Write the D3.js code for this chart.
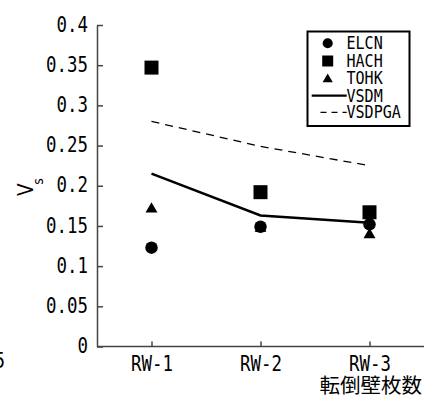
<!DOCTYPE html>
<html><head><meta charset="utf-8">
<script src="https://cdn.jsdelivr.net/npm/d3@7"></script>
<style>
body{margin:0;background:#fff;}
svg{display:block;}
text{font-family:"DejaVu Sans Mono",monospace;fill:#000;}
</style></head>
<body><div id="chart"></div>
<script>
const categories = ["RW-1","RW-2","RW-3"];
const elcn   = [0.123, 0.149, 0.152];
const hach   = [0.347, 0.192, 0.167];
const tohk   = [0.171, 0.147, 0.139];
const vsdm   = [0.215, 0.163, 0.154];
const vsdpga = [0.280, 0.249, 0.225];
const yTicks = [0, 0.05, 0.1, 0.15, 0.2, 0.25, 0.3, 0.35, 0.4];
const yTickLabels = ["0","0.05","0.1","0.15","0.2","0.25","0.3","0.35","0.4"];
const legendLabels = ["ELCN","HACH","TOHK","VSDM","VSDPGA"];
const xTitle = "転倒壁枚数";

const W = 430, H = 396, SX = 0.85;
const svg = d3.select("#chart").append("svg").attr("width", W).attr("height", H);

const x = d3.scalePoint().domain(categories).range([97, 424]).padding(0.5);
const y = d3.scaleLinear().domain([0, 0.4]).range([346.5, 25]);

// Y axis
const yAxis = svg.append("g").attr("transform", "translate(97,0)")
  .call(d3.axisLeft(y).tickValues(yTicks).tickSizeInner(-6).tickSizeOuter(0).tickPadding(9)
    .tickFormat((d,i) => yTickLabels[i]));
yAxis.selectAll("path.domain").attr("stroke", "#444").attr("stroke-width", 1.5);
yAxis.selectAll(".tick line").attr("stroke", "#444").attr("stroke-width", 1.5);
yAxis.selectAll(".tick text")
  .attr("font-family", "DejaVu Sans Mono").attr("font-size", 20.5)
  .attr("x", -9 / SX).attr("dy", "0.3em")
  .attr("transform", `scale(${SX},1)`);

// X axis
const xAxis = svg.append("g").attr("transform", "translate(0,346.5)")
  .call(d3.axisBottom(x).tickSizeInner(-5).tickSizeOuter(0).tickPadding(10));
xAxis.select("path.domain").attr("d", "M97,0H424").attr("stroke", "#444").attr("stroke-width", 1.5);
xAxis.selectAll(".tick line").attr("stroke", "#444").attr("stroke-width", 1.5);
xAxis.selectAll(".tick text")
  .attr("font-family", "DejaVu Sans Mono").attr("font-size", 20.5)
  .attr("y", 24.5).attr("dy", null)
  .attr("transform", `scale(${SX},1)`);

// X title
svg.append("text").attr("x", 422).attr("y", 393).attr("text-anchor", "end")
  .style("font-family", '"Noto Sans CJK JP"').attr("font-size", 20.5).text(xTitle);

// Y title V_s
const yt = svg.append("g").attr("transform", "translate(33,196) rotate(-90) scale(0.9,1)");
yt.append("text").attr("x", 0).attr("y", 0).attr("font-size", 20.5)
  .style("font-family", '"DejaVu Sans"').text("V");
yt.append("text").attr("x", 12.5).attr("y", 10).attr("font-size", 14)
  .style("font-family", '"DejaVu Sans"').text("s");

// stray clipped label at bottom left
svg.append("g").attr("transform", "translate(5,368) scale(0.85,1)")
  .append("text").attr("text-anchor", "end").attr("font-size", 20.5).text("5");

// Lines
const line = d3.line().x((d,i) => x(categories[i])).y(d => y(d));
svg.append("path").datum(vsdpga).attr("d", line).attr("fill", "none")
  .attr("stroke", "#000").attr("stroke-width", 1.3).attr("stroke-dasharray", "8,6");
svg.append("path").datum(vsdm).attr("d", line).attr("fill", "none")
  .attr("stroke", "#000").attr("stroke-width", 2.5);

// Markers
function markers(data, type, size, dy) {
  svg.append("g").selectAll("path").data(data).join("path")
    .attr("transform", (d,i) => `translate(${x(categories[i])},${y(d) + (dy||0)})`)
    .attr("d", d3.symbol().type(type).size(size)())
    .attr("fill", "#000");
}
markers(hach, d3.symbolSquare, 196);
markers(tohk, d3.symbolTriangle, 62, 0);
markers(elcn, d3.symbolCircle, 123);

// Legend
const lg = svg.append("g");
lg.append("rect").attr("x", 307.5).attr("y", 31.5).attr("width", 102).attr("height", 94.5)
  .attr("fill", "#fff").attr("stroke", "#000").attr("stroke-width", 2);
const lx = 327.7, rowY = [43.3, 61, 78.3, 95.7, 112.3];
lg.append("path").attr("transform", `translate(${lx},${rowY[0]})`).attr("d", d3.symbol().type(d3.symbolCircle).size(80)());
lg.append("path").attr("transform", `translate(${lx},${rowY[1]})`).attr("d", d3.symbol().type(d3.symbolSquare).size(121)());
lg.append("path").attr("transform", `translate(${lx},${rowY[2]+1})`).attr("d", d3.symbol().type(d3.symbolTriangle).size(45)());
lg.append("line").attr("x1", 311.7).attr("x2", 346.7).attr("y1", rowY[3]).attr("y2", rowY[3])
  .attr("stroke", "#000").attr("stroke-width", 2.2);
lg.append("line").attr("x1", 320.5).attr("x2", 346.7).attr("y1", rowY[4]).attr("y2", rowY[4])
  .attr("stroke", "#000").attr("stroke-width", 1.3).attr("stroke-dasharray", "6,5");
legendLabels.forEach((t, i) => {
  lg.append("g").attr("transform", `translate(346.5,${rowY[i] + 6}) scale(0.86,1)`)
    .append("text").attr("font-size", 17.5).text(t);
});
</script></body></html>
